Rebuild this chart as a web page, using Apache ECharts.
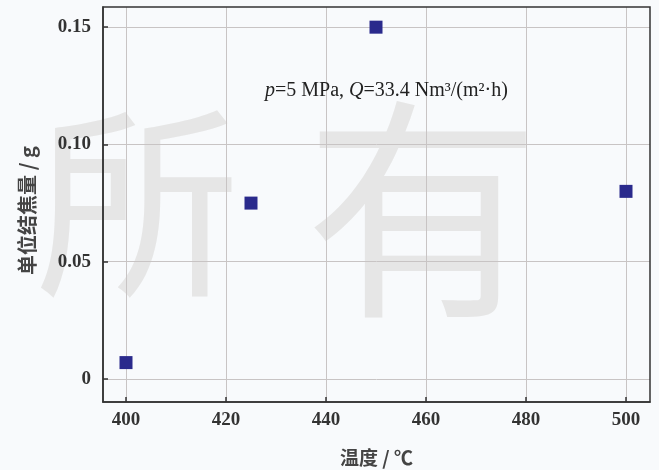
<!DOCTYPE html>
<html>
<head>
<meta charset="utf-8">
<script src="https://cdn.jsdelivr.net/npm/echarts@6/dist/echarts.min.js"></script>
<style>
html,body{margin:0;padding:0;background:#f8fafc;}
#c{width:659px;height:470px;}
</style>
</head>
<body>
<div id="c"></div>
<script>
const temperatures = [400, 425, 450, 500];
const cokeMass = [0.007, 0.075, 0.150, 0.080];
const xTicks = [400, 420, 440, 460, 480, 500];
const yTicks = [0, 0.05, 0.10, 0.15];
const xName = '温度 / ℃';
const yName = '单位结焦量 / g';
const noteParts = ['p', '=5 MPa, ', 'Q', '=33.4 Nm³/(m²·h)'];
const watermark = ['所', '有'];

const chart = echarts.init(document.getElementById('c'));
const serif = 'Liberation Serif';
const cjk = 'Noto Sans CJK SC';

chart.setOption({
  animation: false,
  grid: {left: 103, top: 7, right: 9, bottom: 68, containLabel: false, outerBoundsMode: 'none',
         show: true, borderColor: '#333', borderWidth: 1.5, backgroundColor: 'transparent', z: 3},
  graphic: [
    {type: 'text', left: 35, top: 100, zlevel: -1, silent: true,
     style: {text: watermark[0], font: '205px "Noto Sans CJK SC"', fill: '#e6e6e6'}},
    {type: 'text', left: 305, top: 92, zlevel: -1, silent: true,
     style: {text: watermark[1], font: '235px "Noto Sans CJK SC"', fill: '#e6e6e6'}},
    {type: 'text', left: 265, top: 81, z: 10,
     style: {
       text: '{i|' + noteParts[0] + '}{n|' + noteParts[1] + '}{i|' + noteParts[2] + '}{n|' + noteParts[3] + '}',
       rich: {
         i: {fontFamily: serif, fontStyle: 'italic', fontSize: 20, fill: '#222'},
         n: {fontFamily: serif, fontSize: 20, fill: '#222'}
       }
     }}
  ],
  xAxis: {
    type: 'value', min: 395.4, max: 504.8,
    name: xName, nameLocation: 'middle', nameGap: 46,
    nameTextStyle: {fontFamily: cjk, fontSize: 19, fontWeight: 'bold', color: '#444'},
    axisLine: {show: true, onZero: false, lineStyle: {color: '#333', width: 1.5}},
    axisTick: {show: true, inside: true, length: 5, customValues: xTicks, lineStyle: {color: '#333', width: 1.5}},
    axisLabel: {customValues: xTicks, margin: 9, fontFamily: serif, fontSize: 19, fontWeight: 'bold', color: '#333'},
    splitLine: {show: true, lineStyle: {color: '#c8c4c4', width: 1}}
  },
  yAxis: {
    type: 'value', min: -0.0098, max: 0.1586,
    name: yName, nameLocation: 'middle', nameGap: 66, nameRotate: 90,
    nameTextStyle: {fontFamily: cjk, fontSize: 20, fontWeight: 'bold', color: '#444', padding: [0, 12, 0, 0]},
    axisLine: {show: true, onZero: false, lineStyle: {color: '#333', width: 1.5}},
    axisTick: {show: true, inside: true, length: 5, customValues: yTicks, lineStyle: {color: '#333', width: 1.5}},
    axisLabel: {customValues: yTicks, margin: 12, fontFamily: serif, fontSize: 19, fontWeight: 'bold', color: '#333',
      formatter: v => (Math.abs(v) < 1e-9 ? '0' : v.toFixed(2))},
    splitLine: {show: true, lineStyle: {color: '#c8c4c4', width: 1}}
  },
  series: [{
    type: 'scatter', symbol: 'rect', symbolSize: 13, z: 5,
    itemStyle: {color: '#2a2a8c', opacity: 1},
    data: temperatures.map((t, i) => [t, cokeMass[i]])
  }]
});
</script>
</body>
</html>
